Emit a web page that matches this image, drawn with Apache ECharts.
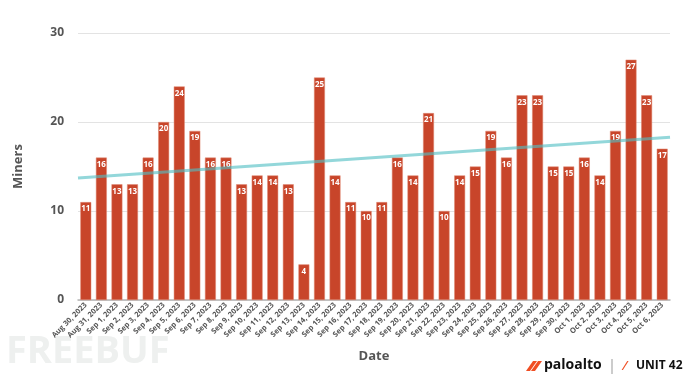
<!DOCTYPE html>
<html>
<head>
<meta charset="utf-8">
<script src="https://cdn.jsdelivr.net/npm/echarts@6/dist/echarts.min.js"></script>
<style>html,body{margin:0;padding:0;background:#fff;}#c{width:690px;height:382px;}</style>
</head>
<body>
<div id="c"></div>
<script>
const categories = ["Aug 30, 2023","Aug 31, 2023","Sep 1, 2023","Sep 2, 2023","Sep 3, 2023","Sep 4, 2023","Sep 5, 2023","Sep 6, 2023","Sep 7, 2023","Sep 8, 2023","Sep 9, 2023","Sep 10, 2023","Sep 11, 2023","Sep 12, 2023","Sep 13, 2023","Sep 14, 2023","Sep 15, 2023","Sep 16, 2023","Sep 17, 2023","Sep 18, 2023","Sep 19, 2023","Sep 20, 2023","Sep 21, 2023","Sep 22, 2023","Sep 23, 2023","Sep 24, 2023","Sep 25, 2023","Sep 26, 2023","Sep 27, 2023","Sep 28, 2023","Sep 29, 2023","Sep 30, 2023","Oct 1, 2023","Oct 2, 2023","Oct 3, 2023","Oct 4, 2023","Oct 5, 2023","Oct 6, 2023"];
const miners = [11,16,13,13,16,20,24,19,16,16,13,14,14,13,4,25,14,11,10,11,16,14,21,10,14,15,19,16,23,23,15,15,16,14,19,27,23,17];
const trendStart = 13.7;
const trendEnd = 18.3;
const yTicks = [0,10,20,30];

const chart = echarts.init(document.getElementById('c'), null, {renderer:'canvas'});
const font = '"Open Sans", "DejaVu Sans", sans-serif';
chart.setOption({
  animation: false,
  grid: {left: 78, right: 20, top: 33, bottom: 82},
  xAxis: [{
    type: 'category',
    data: categories,
    name: 'Date',
    nameLocation: 'middle',
    nameGap: 50,
    nameTextStyle: {fontFamily: font, fontWeight: 'bold', fontSize: 13, color: '#555'},
    axisLine: {lineStyle: {color: '#b5b5b5', width: 1.5}},
    axisTick: {show: false},
    axisLabel: {interval: 0, rotate: 45, fontSize: 7.5, fontFamily: font, fontWeight: 'bold', color: '#555', margin: 4}
  }, {
    type: 'value', min: 0, max: 1, show: false
  }],
  yAxis: {
    type: 'value',
    min: yTicks[0], max: yTicks[yTicks.length-1], interval: 10,
    name: 'Miners',
    nameLocation: 'middle',
    nameGap: 53,
    nameTextStyle: {fontFamily: font, fontWeight: 'bold', fontSize: 13, color: '#555'},
    axisLine: {show: false},
    axisTick: {show: false},
    axisLabel: {fontFamily: font, fontWeight: 'bold', fontSize: 12, color: '#555', margin: 14},
    splitLine: {lineStyle: {color: '#e3e3e3', width: 1}}
  },
  series: [{
    type: 'bar',
    data: miners,
    barCategoryGap: '30%',
    itemStyle: {color: '#c8452a', borderColor: '#e08a75', borderWidth: 0.5},
    label: {show: true, position: 'insideTop', distance: 3, color: '#fff', fontSize: 8, fontWeight: 'bold', fontFamily: font},
    z: 2
  }, {
    type: 'line',
    xAxisIndex: 1,
    data: [[0, trendStart], [1, trendEnd]],
    symbol: 'none',
    lineStyle: {color: 'rgb(80,190,195)', width: 3, opacity: 0.62},
    z: 3,
    silent: true
  }],
  graphic: [
    {type: 'text', left: 6, top: 333, style: {text: 'FREEBUF', font: 'bold 38px "Open Sans", sans-serif', fill: '#eef0ef'}, z: -1},
    {type: 'polygon', shape: {points: [[526,371],[533,361],[537,361],[530,371]]}, style: {fill: '#f04e23'}},
    {type: 'polygon', shape: {points: [[531,371],[538,361],[542,361],[535,371]]}, style: {fill: '#f04e23'}},
    {type: 'text', left: 544, top: 358, style: {text: 'paloalto', font: 'bold 14px "Open Sans", sans-serif', fill: '#111'}},
    {type: 'line', shape: {x1: 612, y1: 359, x2: 612, y2: 374}, style: {stroke: '#999', lineWidth: 1}},
    {type: 'text', left: 624, top: 360, style: {text: '\u2215', font: 'bold 13px sans-serif', fill: '#f04e23'}},
    {type: 'text', left: 636, top: 360, style: {text: 'UNIT 42', font: 'bold 12px "Open Sans", sans-serif', fill: '#111'}}
  ]
});
</script>
</body>
</html>
